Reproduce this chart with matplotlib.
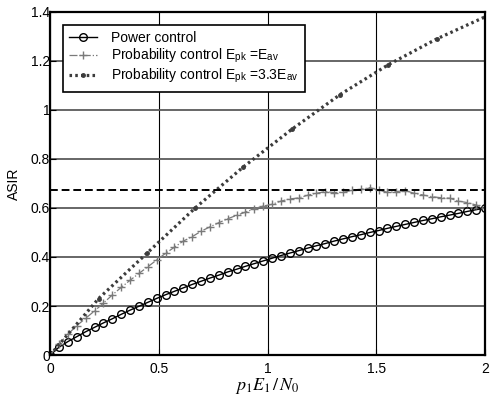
import numpy as np
import matplotlib
matplotlib.use("Agg")
import matplotlib.pyplot as plt

plt.rcParams['font.family'] = ['Liberation Sans', 'DejaVu Sans']
plt.rcParams['mathtext.fontset'] = 'stix'

# power control: 50 points on 0..2
x_pc = np.linspace(0, 2, 50)
y_power = [0.000, 0.032, 0.055, 0.075, 0.095, 0.113, 0.131, 0.148, 0.166, 0.183,
           0.199, 0.215, 0.231, 0.246, 0.260, 0.274, 0.288, 0.301, 0.314, 0.326,
           0.339, 0.350, 0.362, 0.373, 0.384, 0.395, 0.406, 0.416, 0.426, 0.436,
           0.446, 0.455, 0.465, 0.474, 0.483, 0.491, 0.500, 0.508, 0.517, 0.525,
           0.533, 0.541, 0.549, 0.556, 0.564, 0.571, 0.578, 0.586, 0.593, 0.600]

# probability control, Epk = Eav (simulated, same x grid)
y_prob1 = [0.000, 0.045, 0.085, 0.120, 0.150, 0.180, 0.212, 0.245, 0.276, 0.305,
           0.333, 0.360, 0.388, 0.415, 0.440, 0.465, 0.483, 0.505, 0.523, 0.540,
           0.556, 0.570, 0.583, 0.597, 0.608, 0.615, 0.628, 0.637, 0.641, 0.652,
           0.660, 0.667, 0.663, 0.664, 0.672, 0.676, 0.683, 0.673, 0.664, 0.667,
           0.671, 0.660, 0.653, 0.646, 0.642, 0.640, 0.628, 0.622, 0.612, 0.600]

# probability control, Epk = 3.3 Eav: 10 points
x_p2 = np.linspace(0, 2, 10)
y_prob2 = [0.000, 0.230, 0.415, 0.600, 0.768, 0.921, 1.063, 1.185, 1.290, 1.380]

asir_limit = 0.675

fig = plt.figure(figsize=(4.92, 3.98), dpi=100)
ax = fig.add_axes([0.102, 0.108, 0.884, 0.862])

ax.plot(x_pc, y_power, '-o', color='black', lw=1.0, ms=5.5, mfc='none', mew=1.0,
        label='Power control')
ax.plot(x_pc, y_prob1, '-.', marker='+', color='#7a7a7a', lw=0.9, ms=6, mew=1.0,
        label=r'Probability control E$_{\mathregular{pk}}$ =E$_{\mathregular{av}}$')
ax.plot(x_p2, y_prob2, ls=(0, (0.8, 1.0)), marker='.', color='#3c3c3c', lw=2.3, ms=5,
        label=r'Probability control E$_{\mathregular{pk}}$ =3.3E$_{\mathregular{av}}$')
ax.axhline(asir_limit, color='black', lw=1.4, ls=(0, (4, 2)))

ax.set_xlim(0, 2)
ax.set_ylim(0, 1.4)
ax.set_xticks([0, 0.5, 1, 1.5, 2])
ax.set_xticklabels(['0', '0.5', '1', '1.5', '2'])
ax.set_yticks(np.arange(0, 1.41, 0.2))
ax.set_yticklabels(['0', '0.2', '0.4', '0.6', '0.8', '1', '1.2', '1.4'])
ax.yaxis.grid(True, color='#5a5a5a', lw=1.3)
ax.xaxis.grid(True, color='black', lw=0.8)
ax.set_axisbelow(True)
ax.tick_params(direction='in', length=4, labelsize=10)
ax.tick_params(axis='y', pad=0)
ax.tick_params(axis='x', pad=5)
for s in ax.spines.values():
    s.set_linewidth(1.6)

ax.set_ylabel('ASIR', fontsize=10, labelpad=7)
ax.set_xlabel(r'$p_1E_1\,/\,N_0$', fontsize=13, labelpad=0)

leg = ax.legend(loc='upper left', bbox_to_anchor=(0.03, 0.962), borderaxespad=0,
                fontsize=10, fancybox=False, framealpha=1, edgecolor='black',
                labelspacing=0.1, borderpad=0.45, handletextpad=1.0)
leg.get_frame().set_linewidth(1.2)

fig.savefig('out.png', dpi=100)
